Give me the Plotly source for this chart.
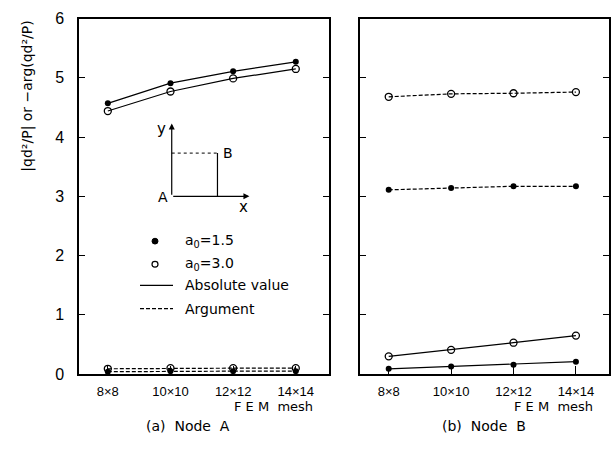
import plotly.graph_objects as go

# ---- data ----
meshes = ["8×8", "10×10", "12×12", "14×14"]
y_ticks = [0, 1, 2, 3, 4, 5, 6]

A_abs_15 = [4.57, 4.91, 5.11, 5.27]
A_abs_30 = [4.44, 4.77, 4.99, 5.15]
A_arg_15 = [0.04, 0.05, 0.05, 0.05]
A_arg_30 = [0.09, 0.10, 0.10, 0.10]

B_abs_15 = [0.09, 0.13, 0.16, 0.21]
B_abs_30 = [0.30, 0.41, 0.53, 0.65]
B_arg_15 = [3.11, 3.14, 3.17, 3.17]
B_arg_30 = [4.68, 4.73, 4.74, 4.76]

W, H = 614, 465
FONT = "DejaVu Sans"
TICKFONT = "Liberation Sans"


def px(x):
    return x / W


def py(y):
    return 1 - y / H


fig = go.Figure()

filled = dict(symbol="circle", size=6, color="black")
opened = dict(symbol="circle-open", size=7, color="black", line=dict(width=1.3, color="black"))


def add(xa, ya, ys, marker, dash):
    fig.add_trace(go.Scatter(
        x=meshes, y=ys, xaxis=xa, yaxis=ya, mode="lines+markers",
        line=dict(color="black", width=1.2, dash=dash), marker=marker,
        showlegend=False, hoverinfo="skip"))


# Node A
add("x", "y", A_arg_30, opened, "4px,2px")
add("x", "y", A_arg_15, filled, "4px,2px")
add("x", "y", A_abs_15, filled, "solid")
add("x", "y", A_abs_30, opened, "solid")
# Node B
add("x2", "y2", B_arg_30, opened, "4px,2px")
add("x2", "y2", B_arg_15, filled, "4px,2px")
add("x2", "y2", B_abs_15, filled, "solid")
add("x2", "y2", B_abs_30, opened, "solid")

xcommon = dict(type="category", range=[-0.46, 3.53], showline=True, linecolor="black",
               linewidth=1.5, mirror=True, ticks="inside", ticklen=8, tickcolor="black",
               showgrid=False, zeroline=False, tickfont=dict(family=TICKFONT, size=13, color="black"),
               ticklabelstandoff=5)
ycommon = dict(range=[0, 6], tickvals=y_ticks, showline=True, linecolor="black", linewidth=1.5,
               mirror="ticks", ticks="inside", ticklen=6, tickcolor="black", showgrid=False,
               zeroline=False, tickfont=dict(family=TICKFONT, size=16, color="black"))

fig.update_layout(
    width=W, height=H, margin=dict(l=0, r=0, t=0, b=0),
    paper_bgcolor="white", plot_bgcolor="white",
    font=dict(family=FONT, color="black"),
    xaxis=dict(domain=[px(79), px(329)], anchor="y", **xcommon),
    yaxis=dict(domain=[py(380), py(11)], anchor="x", ticklabelstandoff=10, **ycommon),
    xaxis2=dict(domain=[px(360), px(609)], anchor="y2", **xcommon),
    yaxis2=dict(domain=[py(380), py(11)], anchor="x2", showticklabels=False, **ycommon),
)

shapes = []
annotations = []


def label(x, y, text, size=14, xanchor="center", angle=0):
    annotations.append(dict(x=px(x), y=py(y), xref="paper", yref="paper", text=text,
                            showarrow=False, xanchor=xanchor, yanchor="middle",
                            textangle=angle, font=dict(size=size, color="black")))


# ---- inset sketch (node positions) in left panel ----
Ax, Ay = 1.02, 3.0
Bx, By = 1.75, 3.73
fig.add_trace(go.Scatter(x=[Ax, Bx], y=[Ay, By], xaxis="x", yaxis="y", mode="markers",
                         marker=dict(size=5, color="black"), showlegend=False, hoverinfo="skip"))
shapes.append(dict(type="line", xref="x", yref="y", x0=Ax, y0=By, x1=Bx, y1=By,
                   line=dict(color="black", width=1, dash="dot")))
shapes.append(dict(type="line", xref="x", yref="y", x0=Bx, y0=By, x1=Bx, y1=Ay,
                   line=dict(color="black", width=1.2)))
annotations.append(dict(xref="x", yref="y", axref="x", ayref="y", x=Ax, y=4.23, ax=Ax, ay=Ay,
                        showarrow=True, arrowhead=2, arrowsize=1, arrowwidth=1.2,
                        arrowcolor="black", text=""))
annotations.append(dict(xref="x", yref="y", axref="x", ayref="y", x=2.26, y=Ay, ax=Ax, ay=Ay,
                        showarrow=True, arrowhead=2, arrowsize=1, arrowwidth=1.2,
                        arrowcolor="black", text=""))
label(163, 196, "A")
label(228, 151, "B")
label(161, 126, "y", 15)
label(243, 207, "x", 15)

# ---- custom legend ----
legend_rows = [(242, "a<sub>0</sub>=1.5"), (266, "a<sub>0</sub>=3.0"),
               (288, "Absolute value"), (312, "Argument")]
for yy, txt in legend_rows:
    label(183, yy, txt, 14, xanchor="left")
shapes.append(dict(type="circle", xref="paper", yref="paper", x0=px(152), x1=px(158),
                   y0=py(245), y1=py(239), fillcolor="black", line=dict(color="black", width=1)))
shapes.append(dict(type="circle", xref="paper", yref="paper", x0=px(152), x1=px(158),
                   y0=py(269), y1=py(263), fillcolor="white", line=dict(color="black", width=1.2)))
shapes.append(dict(type="line", xref="paper", yref="paper", x0=px(140), x1=px(173),
                   y0=py(288), y1=py(288), line=dict(color="black", width=1.2)))
shapes.append(dict(type="line", xref="paper", yref="paper", x0=px(140), x1=px(173),
                   y0=py(312), y1=py(312), line=dict(color="black", width=1.2, dash="4px,2px")))

# ---- axis titles & captions ----
label(28, 92, "|qd²/P| or −arg(qd²/P)", 14, angle=-90)
label(273, 414, "F E M  mesh", 13)
label(553, 414, "F E M  mesh", 13)
label(188, 434, "(a)  Node  A", 14)
label(484, 434, "(b)  Node  B", 14)

fig.update_layout(shapes=shapes, annotations=annotations)
fig.write_html("out.html")
